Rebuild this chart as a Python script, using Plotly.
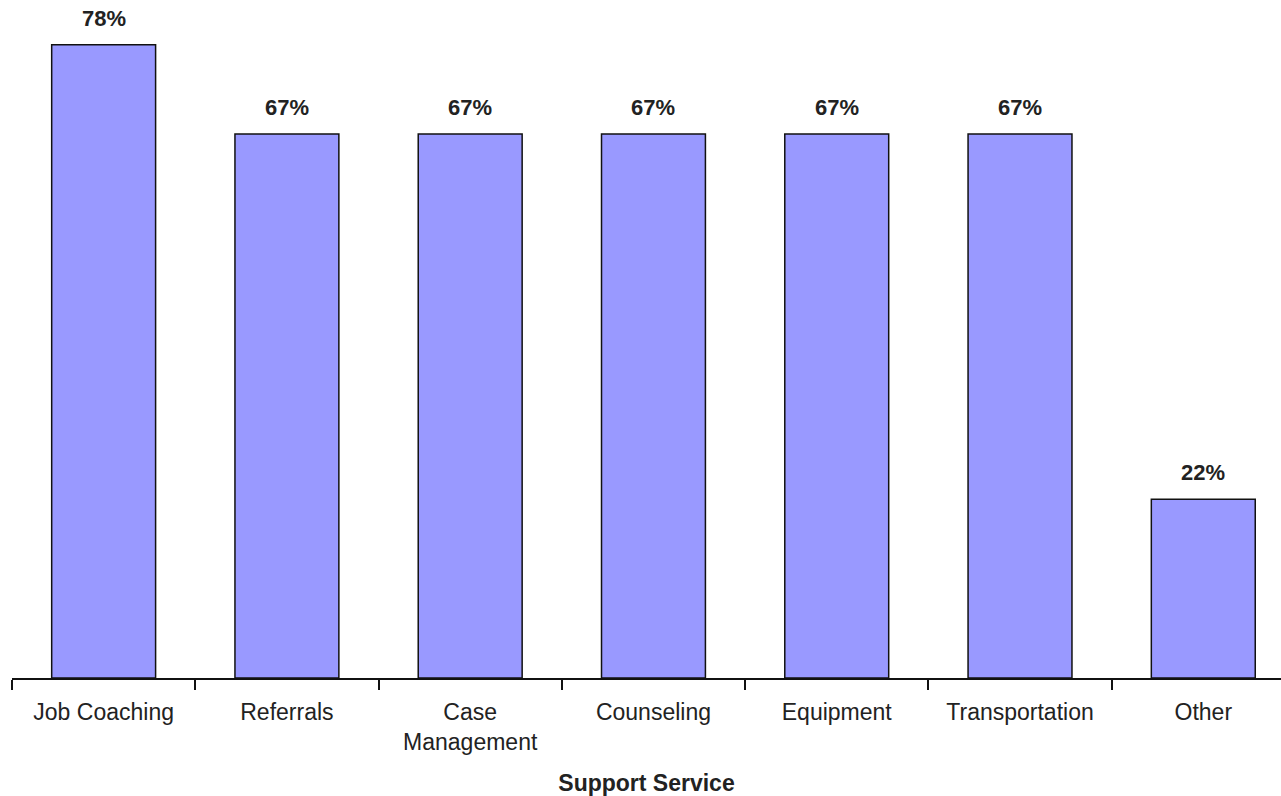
import plotly.graph_objects as go

services = ["Job Coaching", "Referrals", "Case<br>Management", "Counseling",
            "Equipment", "Transportation", "Other"]
percent = [78, 67, 67, 67, 67, 67, 22]
value_labels = ["78%", "67%", "67%", "67%", "67%", "67%", "22%"]

FONT = "Liberation Sans, Arial"

fig = go.Figure()
fig.add_trace(go.Bar(
    x=services,
    y=percent,
    width=0.567,
    marker=dict(color="#9999FF", line=dict(color="#111111", width=1.5)),
    hoverinfo="skip",
))

for cat, v, lab in zip(services, percent, value_labels):
    fig.add_annotation(x=cat, y=v, text="<b>%s</b>" % lab, showarrow=False,
                       yanchor="bottom", yshift=12,
                       font=dict(family=FONT, size=22, color="#222222"))

fig.update_layout(
    width=1281, height=796,
    margin=dict(l=12, r=0, t=0, b=118),
    paper_bgcolor="white", plot_bgcolor="white",
    showlegend=False,
    font=dict(family=FONT, size=23, color="#222222"),
    xaxis=dict(
        type="category",
        range=[-0.5, 6.424],
        tickson="boundaries",
        showline=True, linecolor="#111111", linewidth=1.5,
        ticks="outside", ticklen=10, tickcolor="#111111", tickwidth=2,
        ticklabelstandoff=13,
        tickfont=dict(size=23, color="#222222"),
        showgrid=False, zeroline=False,
        title=dict(text="<b>Support Service</b>", standoff=23,
                   font=dict(size=23, color="#222222")),
    ),
    yaxis=dict(range=[0, 83.5], visible=False),
)

fig.write_html("out.html")
